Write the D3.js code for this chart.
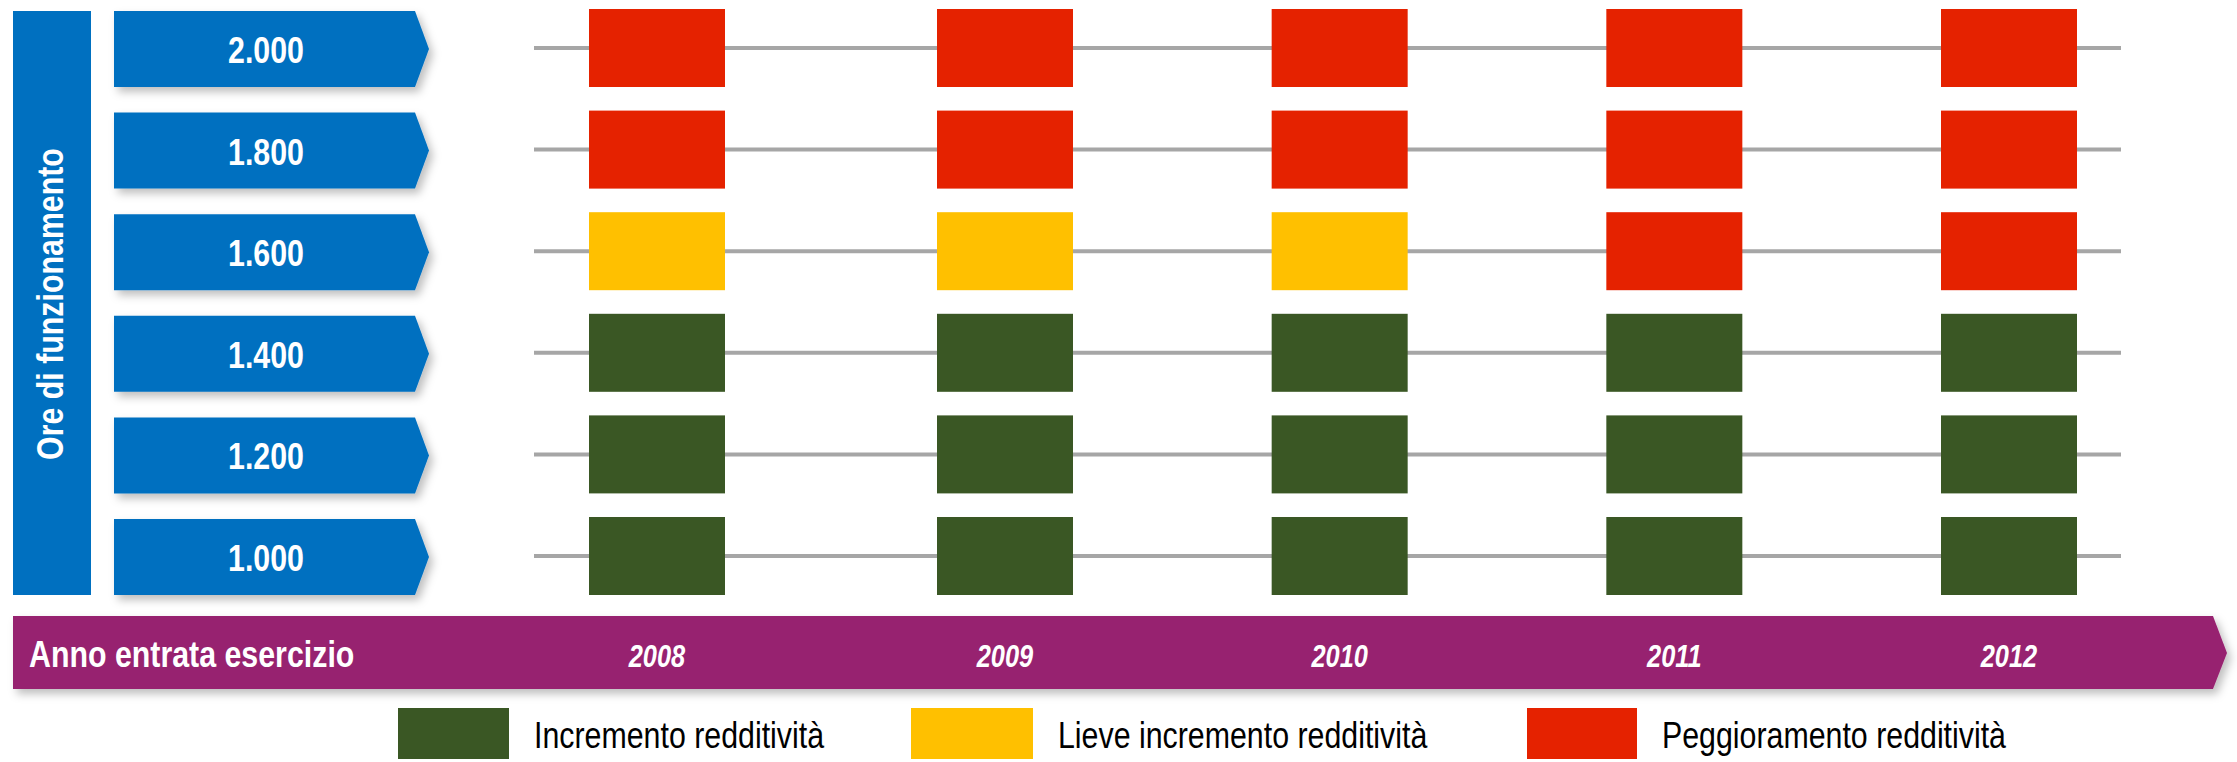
<!DOCTYPE html>
<html>
<head>
<meta charset="utf-8">
<script src="https://cdn.jsdelivr.net/npm/d3@7"></script>
<style>
  body { margin: 0; background: #fff; }
  svg { display: block; }
  text { font-family: "Liberation Sans", Arial, sans-serif; }
</style>
</head>
<body>
<div id="chart"></div>
<script>
// data
var years = [2008, 2009, 2010, 2011, 2012];
var hours = ["2.000", "1.800", "1.600", "1.400", "1.200", "1.000"];
var categories = ["Incremento redditività", "Lieve incremento redditività", "Peggioramento redditività"];
// esito per riga (ore) e anno: 0 = incremento, 1 = lieve incremento, 2 = peggioramento
var esito = [
	[2, 2, 2, 2, 2],
	[2, 2, 2, 2, 2],
	[1, 1, 1, 2, 2],
	[0, 0, 0, 0, 0],
	[0, 0, 0, 0, 0],
	[0, 0, 0, 0, 0]
];
var yTitle = "Ore di funzionamento";
var xTitle = "Anno entrata esercizio";

var W = 2237, H = 762;
var narrow = 0.82; // il font originale e' un "narrow", lo stringo in orizzontale

var svg = d3.select("#chart").append("svg")
	.attr("width", W)
	.attr("height", H);

var defs = svg.append("defs");
defs.append("filter")
	.attr("id", "shadow")
	.attr("x", "-5%").attr("y", "-20%")
	.attr("width", "115%").attr("height", "160%")
	.append("feDropShadow")
		.attr("dx", 4)
		.attr("dy", 5)
		.attr("stdDeviation", 4)
		.attr("flood-color", "#000")
		.attr("flood-opacity", 0.25);

var x = d3.scaleLinear().domain([2008, 2009, 2012]).range([657, 1005, 2009]);
var y = d3.scalePoint().domain(hours).range([48, 556]);
var color = d3.scaleOrdinal().domain([0, 1, 2]).range(["#3a5724", "#ffc000", "#e52200"]);

var boxW = 136, boxH = 78;

function tr(px, py) {
	return "translate(" + px + "," + py + ") scale(" + narrow + ",1)";
}

// barra verticale titolo
svg.append("rect")
	.attr("x", 13)
	.attr("y", 11)
	.attr("width", 78)
	.attr("height", 584)
	.attr("fill", "#0070c0");

svg.append("text")
	.attr("transform", "translate(63,304) rotate(-90) scale(" + narrow + ",1)")
	.attr("text-anchor", "middle")
	.attr("fill", "#fff")
	.style("font-size", "37px")
	.style("font-weight", "bold")
	.text(yTitle);

// frecce ore
var arrows = svg.append("g").selectAll("g")
	.data(hours)
	.enter().append("g");

arrows.append("path")
	.attr("d", function(d) {
		var c = y(d) + 1;
		return "M114," + (c - 38) + "L415," + (c - 38) + "L429," + c + "L415," + (c + 38) + "L114," + (c + 38) + "Z";
	})
	.attr("fill", "#0070c0")
	.attr("filter", "url(#shadow)");

arrows.append("text")
	.attr("transform", function(d) { return tr(266, y(d) + 15); })
	.attr("text-anchor", "middle")
	.attr("fill", "#fff")
	.style("font-size", "37px")
	.style("font-weight", "bold")
	.text(function(d) { return d; });

// linee grigie
svg.append("g").selectAll("line")
	.data(hours)
	.enter().append("line")
		.attr("x1", 534)
		.attr("x2", 2121)
		.attr("y1", function(d) { return y(d); })
		.attr("y2", function(d) { return y(d); })
		.attr("stroke", "#a6a6a6")
		.attr("stroke-width", 4);

// caselle
var cells = [];
hours.forEach(function(h, i) {
	years.forEach(function(yr, j) {
		cells.push({ h: h, yr: yr, v: esito[i][j] });
	});
});

svg.append("g").selectAll("rect")
	.data(cells)
	.enter().append("rect")
		.attr("x", function(d) { return x(d.yr) - boxW / 2; })
		.attr("y", function(d) { return y(d.h) - boxH / 2; })
		.attr("width", boxW)
		.attr("height", boxH)
		.attr("fill", function(d) { return color(d.v); });

// freccia anni
svg.append("path")
	.attr("d", "M13,616L2213,616L2227,653L2213,689L13,689Z")
	.attr("fill", "#972270")
	.attr("filter", "url(#shadow)");

svg.append("text")
	.attr("transform", tr(29, 667))
	.attr("fill", "#fff")
	.style("font-size", "37px")
	.style("font-weight", "bold")
	.text(xTitle);

svg.append("g").selectAll("text")
	.data(years)
	.enter().append("text")
		.attr("transform", function(d) { return tr(x(d), 667); })
		.attr("text-anchor", "middle")
		.attr("fill", "#fff")
		.style("font-size", "31px")
		.style("font-weight", "bold")
		.style("font-style", "italic")
		.text(function(d) { return d; });

// legenda
var legendX = [398, 911, 1527];
var legendW = [111, 122, 110];
var legend = svg.append("g").selectAll("g")
	.data(categories)
	.enter().append("g");

legend.append("rect")
	.attr("x", function(d, i) { return legendX[i]; })
	.attr("y", 708)
	.attr("width", function(d, i) { return legendW[i]; })
	.attr("height", 51)
	.attr("fill", function(d, i) { return color(i); });

legend.append("text")
	.attr("transform", function(d, i) { return tr(legendX[i] + legendW[i] + 25, 748); })
	.attr("fill", "#000")
	.style("font-size", "37px")
	.text(function(d) { return d; });
</script>
</body>
</html>
